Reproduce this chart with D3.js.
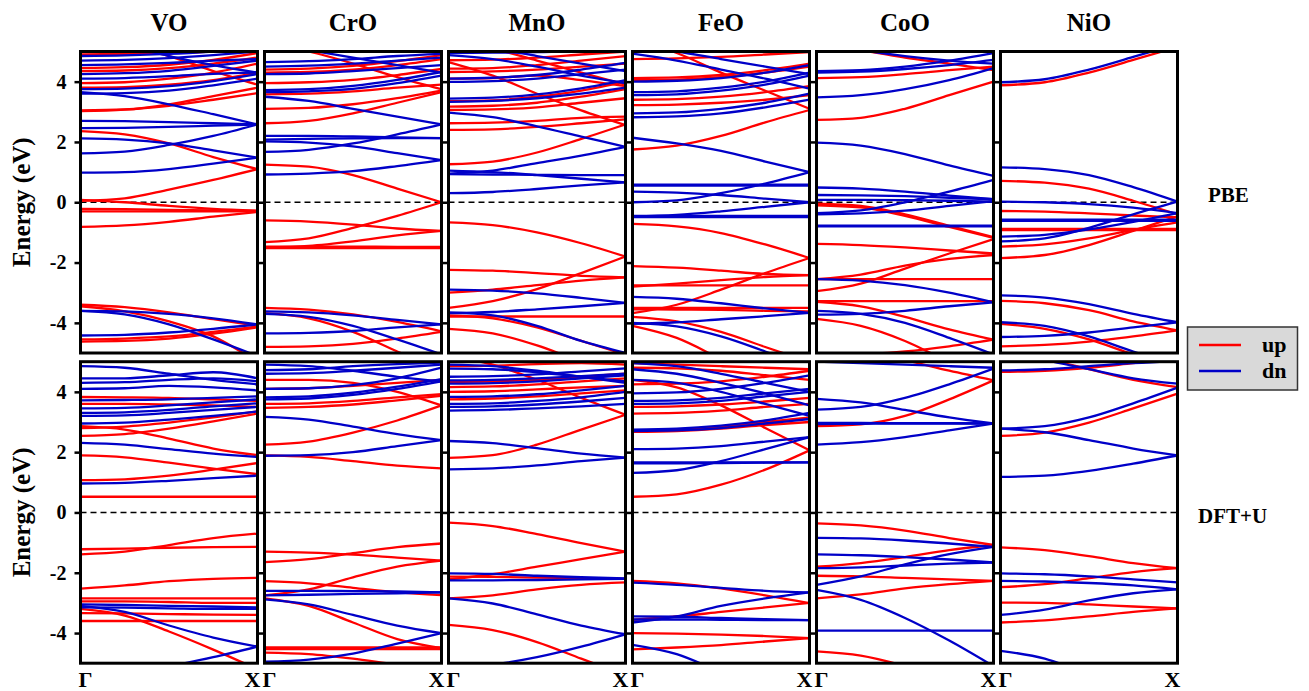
<!DOCTYPE html>
<html><head><meta charset="utf-8">
<script src="https://cdn.jsdelivr.net/npm/d3@7"></script>
<style>
body{margin:0;background:#fff;}
text{font-family:"Liberation Serif","Times New Roman",serif;font-weight:bold;fill:#000;}
</style></head><body>
<svg id="chart" width="1309" height="691"></svg>
<script>
const compounds = ["VO","CrO","MnO","FeO","CoO","NiO"];
const methods = ["PBE","DFT+U"];
const kPoints = [0, 0.25, 0.5, 0.75, 1];
const energyTicks = [-4, -2, 0, 2, 4];
const kLabels = ["Γ","X"];
const spinLabels = ["up","dn"];

// ---------- PBE ----------
const voPbeUp = [
 [0.05,0.13,0.42,0.74,1.1],[0.08,0.0,-0.12,-0.22,-0.28],[-0.22,-0.23,-0.25,-0.27,-0.29],
 [-0.3,-0.3,-0.3,-0.3,-0.3],[-0.82,-0.77,-0.65,-0.48,-0.32],[2.36,2.25,1.95,1.5,1.1],
 [3.05,3.08,3.2,3.4,3.62],[3.02,3.07,3.25,3.52,3.8],[3.8,3.82,3.9,4.05,4.3],
 [3.95,3.98,4.1,4.3,4.6],[4.35,4.37,4.45,4.6,4.8],[4.45,4.48,4.56,4.72,4.95],
 [4.9,4.92,4.95,5.0,5.1],[5.6,5.2,4.85,4.35,3.9],[-3.4,-3.48,-3.65,-3.88,-4.1],
 [-3.45,-3.62,-3.95,-4.45,-5.3],[-4.55,-4.52,-4.45,-4.3,-4.12],[-4.62,-4.6,-4.52,-4.36,-4.15]
];
const voPbeDn = [
 [0.98,1.0,1.1,1.28,1.48],[1.62,1.68,1.9,2.2,2.58],[2.12,2.08,1.95,1.72,1.48],
 [2.46,2.47,2.5,2.54,2.58],[2.7,2.69,2.66,2.62,2.58],[3.65,3.52,3.25,2.92,2.58],
 [3.6,3.62,3.7,3.88,4.1],[3.75,3.77,3.85,4.02,4.25],[4.1,4.12,4.18,4.26,4.3],
 [4.25,4.28,4.36,4.52,4.7],[4.55,4.57,4.62,4.7,4.75],[4.7,4.72,4.78,4.88,5.0],
 [4.85,4.87,4.92,5.0,5.1],[5.5,5.2,4.85,4.55,4.3],[-3.6,-3.62,-3.7,-3.85,-4.05],
 [-3.6,-3.72,-4.05,-4.55,-5.1],[-4.42,-4.4,-4.32,-4.2,-4.05]
];
const crPbeUp = [
 [1.25,1.18,0.9,0.45,0.0],[-1.32,-1.2,-0.85,-0.45,0.0],[-0.6,-0.64,-0.74,-0.87,-0.95],
 [-1.5,-1.45,-1.3,-1.1,-0.95],[-1.47,-1.47,-1.47,-1.48,-1.48],[-1.52,-1.52,-1.52,-1.52,-1.52],
 [2.62,2.7,2.95,3.3,3.65],[3.1,3.13,3.25,3.45,3.7],[3.58,3.6,3.68,3.8,3.9],
 [3.95,3.98,4.06,4.22,4.42],[4.3,4.32,4.4,4.55,4.75],[4.4,4.43,4.52,4.68,4.88],
 [5.3,5.0,4.6,4.15,3.75],[-3.5,-3.56,-3.72,-3.97,-4.28],[-3.68,-3.85,-4.3,-4.95,-5.6],
 [-4.8,-4.78,-4.7,-4.52,-4.3]
];
const crPbeDn = [
 [0.92,0.95,1.03,1.2,1.4],[1.67,1.74,1.95,2.25,2.58],[2.02,1.98,1.85,1.63,1.4],
 [2.2,2.2,2.18,2.15,2.13],[2.08,2.1,2.12,2.13,2.13],[3.5,3.36,3.1,2.84,2.58],
 [3.65,3.68,3.76,3.95,4.2],[3.72,3.75,3.86,4.06,4.32],[4.25,4.27,4.35,4.45,4.55],
 [4.5,4.53,4.6,4.7,4.8],[4.65,4.68,4.75,4.85,4.92],[5.3,5.05,4.8,4.55,4.3],
 [-3.62,-3.65,-3.75,-3.9,-4.05],[-3.7,-3.8,-4.1,-4.55,-5.05],[-4.35,-4.33,-4.27,-4.15,-4.05]
];
const mnPbeUp = [
 [-0.67,-0.76,-1.0,-1.36,-1.8],[-3.5,-3.28,-2.88,-2.35,-1.8],[-2.24,-2.27,-2.35,-2.44,-2.49],
 [-3.0,-2.9,-2.75,-2.6,-2.49],[-3.79,-3.79,-3.79,-3.79,-3.79],[-3.75,-3.85,-4.15,-4.6,-5.05],
 [-4.2,-4.35,-4.75,-5.3,-5.9],[1.26,1.35,1.65,2.1,2.58],[2.4,2.42,2.5,2.62,2.75],
 [2.62,2.64,2.7,2.8,2.84],[3.06,3.08,3.15,3.3,3.45],[3.17,3.2,3.3,3.5,3.75],
 [4.65,4.2,3.6,3.05,2.56],[4.32,4.34,4.4,4.5,4.6],[4.43,4.45,4.55,4.7,4.85],
 [4.71,4.73,4.8,4.9,5.0],[5.4,5.1,4.7,4.3,3.9],[3.35,3.38,3.5,3.7,4.0],[4.1,4.12,4.2,4.05,3.85]
];
const mnPbeDn = [
 [0.3,0.34,0.44,0.56,0.66],[0.93,0.92,0.91,0.9,0.9],[1.05,1.0,0.9,0.78,0.66],
 [0.95,1.05,1.3,1.55,1.84],[2.97,2.82,2.52,2.18,1.84],[-2.9,-2.93,-3.02,-3.17,-3.34],
 [-3.68,-3.64,-3.55,-3.45,-3.34],[-3.65,-3.75,-4.1,-4.6,-5.0],[3.33,3.36,3.45,3.6,3.8],
 [3.44,3.47,3.58,3.78,4.05],[3.99,4.02,4.1,4.25,4.4],[4.1,4.13,4.22,4.4,4.62],
 [4.88,4.75,4.5,4.2,3.95],[4.95,4.96,4.98,5.0,5.0],[5.3,5.1,4.85,4.6,4.35]
];
const fePbeUp = [
 [-0.72,-0.8,-1.02,-1.4,-1.85],[-3.68,-3.4,-2.9,-2.35,-1.85],[-2.12,-2.17,-2.27,-2.38,-2.42],
 [-2.76,-2.76,-2.76,-2.76,-2.76],[-2.8,-2.7,-2.58,-2.48,-2.42],[-3.5,-3.5,-3.5,-3.5,-3.5],
 [-3.55,-3.56,-3.57,-3.6,-3.62],[-3.8,-3.95,-4.3,-4.8,-5.3],[-4.1,-4.5,-5.2,-5.9,-6.5],
 [1.75,1.88,2.2,2.65,3.06],[3.22,3.24,3.3,3.4,3.55],[3.4,3.42,3.5,3.65,3.85],
 [4.05,4.07,4.15,4.3,4.5],[4.12,4.14,4.22,4.38,4.6],[5.4,4.95,4.3,3.7,3.1],
 [4.75,4.77,4.82,4.9,4.98]
];
const fePbeDn = [
 [0.0,0.06,0.3,0.62,1.0],[2.14,1.95,1.7,1.35,1.0],[0.58,0.58,0.58,0.58,0.58],
 [0.55,0.55,0.55,0.55,0.55],[0.35,0.32,0.24,0.12,0.0],[-0.47,-0.42,-0.3,-0.15,0.0],
 [-0.45,-0.45,-0.45,-0.45,-0.45],[-0.49,-0.49,-0.49,-0.49,-0.49],[-3.14,-3.2,-3.35,-3.52,-3.67],
 [-4.03,-3.98,-3.88,-3.78,-3.67],[-4.0,-4.12,-4.45,-4.95,-5.5],[2.82,2.85,2.95,3.15,3.4],
 [2.95,2.98,3.1,3.3,3.6],[3.55,3.58,3.7,3.9,4.2],[3.65,3.68,3.8,4.0,4.3],
 [4.0,4.03,4.12,4.3,4.55],[4.93,4.7,4.4,4.1,3.77],[5.2,5.0,4.75,4.5,4.25]
];
const coPbeUp = [
 [-0.05,-0.12,-0.4,-0.78,-1.16],[-0.1,-0.17,-0.45,-0.82,-1.18],[-2.95,-2.7,-2.2,-1.7,-1.22],
 [-1.38,-1.42,-1.5,-1.6,-1.7],[-2.55,-2.4,-2.1,-1.88,-1.75],[-2.55,-2.55,-2.55,-2.55,-2.55],
 [-3.28,-3.28,-3.28,-3.28,-3.28],[-3.3,-3.45,-3.8,-4.22,-4.56],[-3.87,-4.1,-4.6,-5.3,-5.9],
 [-5.1,-5.05,-4.95,-4.78,-4.56],[2.73,2.8,3.1,3.55,4.0],[4.12,4.15,4.25,4.38,4.5],
 [5.3,5.05,4.8,4.6,4.38]
];
const coPbeDn = [
 [1.98,1.88,1.6,1.22,0.87],[0.49,0.45,0.35,0.22,0.1],[0.24,0.23,0.2,0.15,0.1],
 [0.08,0.08,0.07,0.05,0.02],[-0.36,-0.27,0.0,0.35,0.74],[-0.4,-0.37,-0.28,-0.12,0.04],
 [-0.78,-0.78,-0.78,-0.78,-0.78],[-0.8,-0.8,-0.8,-0.8,-0.8],[-2.55,-2.6,-2.75,-3.0,-3.32],
 [-3.73,-3.7,-3.6,-3.45,-3.32],[-3.6,-3.7,-4.0,-4.5,-5.05],[3.48,3.55,3.75,4.05,4.45],
 [4.3,4.33,4.42,4.55,4.72],[4.35,4.38,4.5,4.7,4.95],[5.3,5.05,4.85,4.7,4.6]
];
const niPbeUp = [
 [3.88,3.98,4.3,4.72,5.15],[0.71,0.65,0.45,0.05,-0.4],[-0.29,-0.31,-0.37,-0.44,-0.5],
 [-0.88,-0.88,-0.88,-0.88,-0.88],[-0.92,-0.92,-0.92,-0.92,-0.92],[-1.85,-1.75,-1.42,-0.95,-0.47],
 [-1.47,-1.4,-1.2,-0.92,-0.67],[-3.27,-3.35,-3.58,-3.95,-4.25],[-4.03,-4.2,-4.55,-5.05,-5.5],
 [-4.78,-4.73,-4.62,-4.45,-4.25]
];
const niPbeDn = [
 [3.98,4.08,4.4,4.82,5.25],[1.16,1.1,0.9,0.5,0.02],[0.02,0.0,-0.06,-0.18,-0.36],
 [-0.58,-0.58,-0.58,-0.58,-0.58],[-0.62,-0.62,-0.62,-0.62,-0.62],[-1.3,-1.2,-0.85,-0.4,0.02],
 [-1.14,-1.08,-0.9,-0.65,-0.36],[-3.09,-3.16,-3.38,-3.7,-3.98],[-3.98,-4.1,-4.45,-4.95,-5.4],
 [-4.47,-4.43,-4.32,-4.15,-3.98]
];

// ---------- DFT+U ----------
const voUUp = [
 [0.52,0.52,0.52,0.52,0.52],[1.07,1.1,1.22,1.42,1.64],[1.89,1.83,1.65,1.45,1.27],
 [2.86,2.75,2.45,2.12,1.9],[2.54,2.6,2.78,3.02,3.28],[2.8,2.85,2.98,3.15,3.35],
 [3.6,3.6,3.58,3.55,3.5],[3.83,3.82,3.8,3.75,3.7],[-1.39,-1.3,-1.08,-0.85,-0.7],
 [-1.22,-1.2,-1.17,-1.15,-1.14],[-2.53,-2.42,-2.28,-2.2,-2.17],[-2.85,-2.85,-2.85,-2.85,-2.85],
 [-2.95,-2.95,-2.97,-3.0,-3.0],[-3.34,-3.35,-3.37,-3.39,-3.4],[-3.6,-3.6,-3.6,-3.6,-3.6],
 [-3.2,-3.42,-3.95,-4.55,-5.2]
];
const voUDn = [
 [0.96,0.98,1.05,1.14,1.22],[2.31,2.25,2.1,1.95,1.84],[2.95,2.98,3.08,3.2,3.35],
 [3.2,3.22,3.3,3.4,3.5],[3.3,3.32,3.4,3.52,3.62],[3.45,3.47,3.55,3.65,3.75],
 [3.72,3.73,3.75,3.8,3.85],[4.1,4.12,4.2,4.15,4.05],[4.3,4.32,4.4,4.45,4.35],
 [4.45,4.45,4.55,4.65,4.45],[4.85,4.8,4.6,4.4,4.25],[-3.05,-3.07,-3.1,-3.12,-3.15],
 [-3.15,-3.16,-3.18,-3.2,-3.2],[-3.1,-3.3,-3.75,-4.15,-4.45],[-5.4,-5.3,-5.1,-4.8,-4.45]
];
const crUUp = [
 [2.25,2.35,2.65,3.05,3.55],[1.89,1.84,1.7,1.55,1.46],[3.47,3.5,3.58,3.72,3.87],
 [3.6,3.62,3.7,3.82,3.92],[4.4,4.4,4.3,4.0,3.55],[4.1,4.12,4.2,4.3,4.4],
 [-1.3,-1.33,-1.4,-1.5,-1.6],[-1.65,-1.55,-1.35,-1.15,-1.03],[-2.75,-2.55,-2.15,-1.8,-1.6],
 [-2.28,-2.35,-2.5,-2.65,-2.74],[-2.85,-3.1,-3.65,-4.2,-4.5],[-4.48,-4.48,-4.48,-4.48,-4.48],
 [-4.53,-4.53,-4.53,-4.53,-4.53],[-4.65,-4.7,-4.85,-5.05,-5.2]
];
const crUDn = [
 [1.88,1.9,2.0,2.2,2.4],[3.17,3.08,2.85,2.6,2.4],[3.75,3.78,3.9,4.1,4.35],
 [3.82,3.85,3.97,4.17,4.42],[4.1,4.12,4.22,4.45,4.8],[4.6,4.62,4.7,4.8,4.9],
 [4.72,4.75,4.85,4.92,4.97],[4.9,4.85,4.7,4.5,4.35],[-2.6,-2.6,-2.61,-2.62,-2.65],
 [-2.75,-2.73,-2.7,-2.68,-2.65],[-2.88,-3.05,-3.4,-3.75,-4.0],[-4.95,-4.88,-4.68,-4.35,-4.0]
];
const mnUUp = [
 [-0.34,-0.45,-0.72,-1.02,-1.3],[-2.22,-2.05,-1.8,-1.55,-1.3],[-2.13,-2.14,-2.16,-2.18,-2.2],
 [-2.85,-2.75,-2.55,-2.4,-2.32],[-3.73,-3.9,-4.3,-4.85,-5.4],[1.81,1.9,2.25,2.75,3.24],
 [4.33,4.35,4.4,4.5,4.6],[4.16,4.18,4.25,4.35,4.45],[4.0,4.02,4.08,4.15,4.2],
 [3.75,3.78,3.85,3.95,4.05],[5.2,4.9,4.4,3.8,3.24],[4.85,4.87,4.92,4.95,4.9]
];
const mnUDn = [
 [1.43,1.46,1.56,1.7,1.82],[2.37,2.3,2.13,1.95,1.82],[-2.02,-2.04,-2.1,-2.15,-2.19],
 [-2.25,-2.25,-2.24,-2.22,-2.2],[-2.85,-3.02,-3.38,-3.75,-4.04],[-5.2,-5.05,-4.8,-4.45,-4.04],
 [3.38,3.4,3.45,3.52,3.6],[3.5,3.52,3.58,3.68,3.8],[3.6,3.62,3.7,3.82,4.0],
 [3.83,3.85,3.92,4.05,4.2],[4.27,4.29,4.35,4.45,4.55],[4.38,4.4,4.45,4.52,4.6],
 [4.5,4.52,4.58,4.68,4.78],[4.77,4.75,4.65,4.5,4.35],[4.9,4.85,4.7,4.5,4.3]
];
const feUUp = [
 [0.52,0.6,0.92,1.42,2.06],[-2.27,-2.35,-2.52,-2.75,-3.01],[-3.56,-3.45,-3.3,-3.15,-3.0],
 [-4.0,-4.02,-4.05,-4.1,-4.17],[-4.54,-4.48,-4.4,-4.28,-4.17],[2.67,2.7,2.78,2.9,3.0],
 [2.72,2.75,2.85,3.0,3.15],[3.28,3.3,3.38,3.5,3.6],[3.5,3.52,3.58,3.68,3.8],
 [4.4,4.15,3.55,2.8,2.06],[4.25,4.27,4.35,4.5,4.7],[4.8,4.78,4.7,4.55,4.4],
 [4.95,4.9,4.85,4.8,4.75]
];
const feUDn = [
 [1.66,1.66,1.66,1.66,1.66],[1.63,1.63,1.64,1.65,1.66],[1.31,1.4,1.7,2.1,2.5],
 [2.1,2.12,2.2,2.35,2.5],[-2.33,-2.4,-2.5,-2.6,-2.65],[-3.65,-3.45,-3.1,-2.85,-2.65],
 [-3.55,-3.55,-3.56,-3.57,-3.57],[-3.45,-3.46,-3.5,-3.54,-3.57],[-4.39,-4.7,-5.3,-5.9,-6.3],
 [2.7,2.72,2.8,2.95,3.1],[2.75,2.78,2.88,3.05,3.3],[3.6,3.62,3.7,3.85,4.0],
 [3.7,3.72,3.8,3.95,4.1],[4.4,4.3,4.0,3.6,3.2],[4.75,4.6,4.3,3.95,3.55],
 [4.95,4.85,4.6,4.3,4.0],[3.95,3.98,4.1,4.3,4.55]
];
const coUUp = [
 [-0.36,-0.43,-0.6,-0.85,-1.08],[-1.8,-1.68,-1.48,-1.25,-1.08],[-2.1,-2.12,-2.17,-2.22,-2.27],
 [-2.85,-2.72,-2.52,-2.38,-2.27],[-4.61,-4.75,-5.1,-5.6,-6.0],[2.86,2.92,3.2,3.75,4.38],
 [5.6,5.35,5.05,4.7,4.38]
];
const coUDn = [
 [2.25,2.33,2.5,2.72,2.95],[2.97,2.97,2.96,2.96,2.95],[2.93,2.94,2.95,2.95,2.95],
 [3.77,3.65,3.4,3.15,2.95],[3.41,3.5,3.8,4.25,4.77],[-0.84,-0.86,-0.93,-1.03,-1.14],
 [-1.39,-1.42,-1.48,-1.56,-1.66],[-2.4,-2.12,-1.72,-1.38,-1.14],[-1.85,-1.82,-1.76,-1.7,-1.66],
 [-2.57,-2.9,-3.5,-4.25,-5.1],[-3.92,-3.92,-3.92,-3.92,-3.92],[5.0,4.95,4.9,4.85,4.8]
];
const niUUp = [
 [-1.16,-1.25,-1.45,-1.68,-1.85],[-2.48,-2.38,-2.18,-1.98,-1.85],[-2.99,-3.0,-3.05,-3.12,-3.18],
 [-3.65,-3.58,-3.45,-3.3,-3.18],[2.54,2.65,2.98,3.45,3.94],[4.66,4.7,4.8,4.95,5.1],
 [5.4,5.1,4.75,4.4,4.16]
];
const niUDn = [
 [1.18,1.22,1.38,1.62,1.89],[2.78,2.66,2.4,2.12,1.89],[2.78,2.86,3.15,3.62,4.14],
 [4.71,4.75,4.85,4.95,5.02],[5.3,5.05,4.75,4.45,4.27],[-2.02,-2.05,-2.12,-2.22,-2.32],
 [-2.27,-2.29,-2.34,-2.42,-2.55],[-3.4,-3.22,-2.92,-2.68,-2.55],[-4.59,-4.85,-5.4,-6.0,-6.5]
];

const panelData = [
  [{up:voPbeUp,dn:voPbeDn},{up:crPbeUp,dn:crPbeDn},{up:mnPbeUp,dn:mnPbeDn},
   {up:fePbeUp,dn:fePbeDn},{up:coPbeUp,dn:coPbeDn},{up:niPbeUp,dn:niPbeDn}],
  [{up:voUUp,dn:voUDn},{up:crUUp,dn:crUDn},{up:mnUUp,dn:mnUDn},
   {up:feUUp,dn:feUDn},{up:coUUp,dn:coUDn},{up:niUUp,dn:niUDn}]
];

const svg = d3.select("#chart");
const W = 177, step = 184, left0 = 80.5;
const rows = [{top:51.5, bottom:353}, {top:361.7, bottom:663.2}];
const colors = {up:"#ff0000", dn:"#0000c8"};

panelData.forEach((row, r) => {
  row.forEach((p, c) => {
    const x0 = left0 + c*step;
    const x = d3.scaleLinear().domain([0,1]).range([x0, x0+W]);
    const y = d3.scaleLinear().domain([-5,5]).range([rows[r].bottom, rows[r].top]);
    const id = `clip-${r}-${c}`;
    svg.append("clipPath").attr("id", id).append("rect")
      .attr("x", x0).attr("y", rows[r].top).attr("width", W).attr("height", rows[r].bottom - rows[r].top);
    const g = svg.append("g").attr("clip-path", `url(#${id})`);
    g.append("line").attr("x1", x(0)).attr("x2", x(1)).attr("y1", y(0)).attr("y2", y(0))
      .attr("stroke","#000").attr("stroke-width",1.5).attr("stroke-dasharray","6,4");
    const line = d3.line().x((d,i)=>x(kPoints[i])).y(d=>y(d)).curve(d3.curveMonotoneX);
    spinLabels.forEach(s => {
      g.selectAll(null).data(p[s]).join("path")
        .attr("d", line).attr("fill","none").attr("stroke", colors[s]).attr("stroke-width", 2.3);
    });
    const axis = d3.axisLeft(y).tickValues(energyTicks).tickSize(6).tickPadding(8)
      .tickFormat(c === 0 ? (d => String(d)) : "");
    const ag = svg.append("g").attr("transform", `translate(${x0},0)`).call(axis);
    ag.select(".domain").remove();
    ag.attr("font-size", 20);
    ag.selectAll(".tick line").attr("stroke","#000").attr("stroke-width",2.5);
    svg.append("rect").attr("x", x0).attr("y", rows[r].top).attr("width", W)
      .attr("height", rows[r].bottom - rows[r].top)
      .attr("fill","none").attr("stroke","#000").attr("stroke-width",3);
    if (r === 0) {
      svg.append("text").attr("x", x0 + W/2).attr("y", 31).attr("text-anchor","middle")
        .attr("font-size", 25).text(compounds[c]);
    } else {
      svg.append("text").attr("x", x0 - 2).attr("y", 687).attr("font-size", 22).text(kLabels[0]);
      svg.append("text").attr("x", x0 + W + 3).attr("y", 687).attr("text-anchor","end")
        .attr("font-size", 22).text(kLabels[1]);
    }
  });
  const yc = (rows[r].top + rows[r].bottom)/2;
  svg.append("text").attr("transform", `translate(29.5,${yc}) rotate(-90)`)
    .attr("text-anchor","middle").attr("font-size", 25).text("Energy (eV)");
});

svg.append("text").attr("x", 1208).attr("y", 202).attr("font-size", 21).text(methods[0]);
svg.append("text").attr("x", 1198).attr("y", 523).attr("font-size", 21).text(methods[1]);

const lg = svg.append("g");
lg.append("rect").attr("x", 1187.5).attr("y", 327).attr("width", 110).attr("height", 63)
  .attr("fill","#d9d9d9").attr("stroke","#333").attr("stroke-width",1.5);
spinLabels.forEach((s, i) => {
  const yy = 345 + i*26;
  lg.append("line").attr("x1", 1199).attr("x2", 1241).attr("y1", yy).attr("y2", yy)
    .attr("stroke", colors[s]).attr("stroke-width", 2.5);
  lg.append("text").attr("x", 1262).attr("y", yy + 7).attr("font-size", 22).text(s);
});
</script>
</body></html>
